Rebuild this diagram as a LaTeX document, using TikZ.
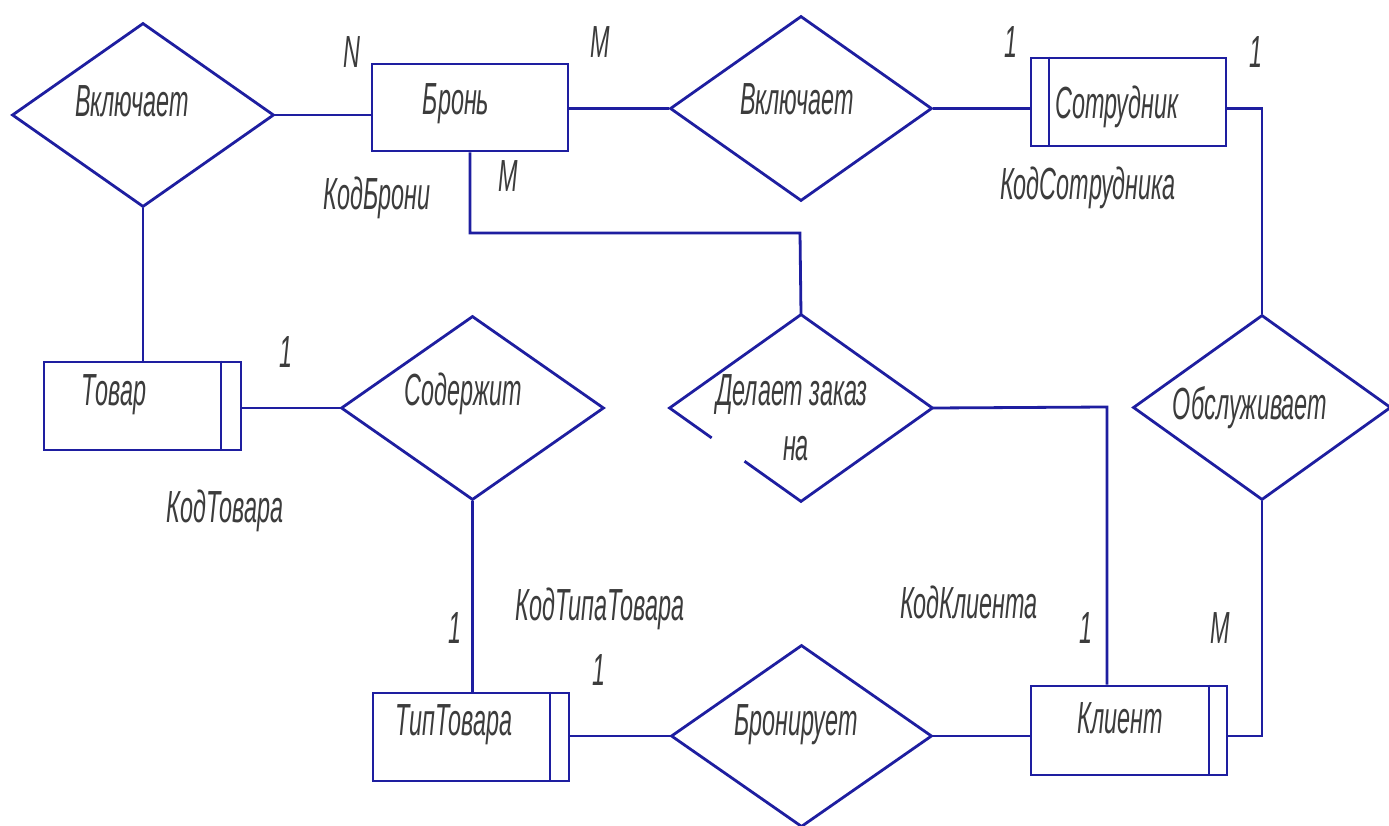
\documentclass[tikz,border=0pt]{standalone}
\usepackage{fontspec}
\usetikzlibrary{shapes.geometric,calc}
\newfontfamily\gost[FakeStretch=0.52]{Liberation Sans}
\definecolor{lineblue}{RGB}{30,30,160}
\definecolor{inkgray}{RGB}{60,60,60}
\begin{document}
\begin{tikzpicture}[x=1pt,y=-1pt,
  ln/.style={draw=lineblue, line width=2.8pt},
  thinln/.style={draw=lineblue, line width=2pt},
  entity/.style={ln, rectangle, inner sep=0pt},
  rel/.style={ln, diamond, inner sep=0pt},
  txt/.style={font=\gost\itshape\fontsize{45}{50}\selectfont, text=inkgray, anchor=base, inner sep=0pt},
]
\useasboundingbox (0,0) rectangle (1389,826);
\fill[white] (0,0) rectangle (1389,826);
\clip (0,0) rectangle (1389,826);

% entities and relationships
\node[rel, minimum width=262pt, minimum height=184pt] (inc1) at (143,115) {};
\node[entity, minimum width=196pt, minimum height=87pt] (bron) at (470,107.5) {};
\node[rel, minimum width=262pt, minimum height=185pt] (inc2) at (801,108.5) {};
\node[entity, minimum width=195pt, minimum height=88pt] (sotr) at (1128.5,102) {};
\node[entity, minimum width=197pt, minimum height=88pt] (tovar) at (142.5,406) {};
\node[rel, minimum width=263pt, minimum height=184pt] (sod) at (472.5,408) {};
\node[rel, draw=none, minimum width=260pt, minimum height=184pt] (order) at (801,408) {};
\node[rel, minimum width=258pt, minimum height=185pt] (obs) at (1262,407.5) {};
\node[entity, minimum width=196pt, minimum height=88pt] (tip) at (471,737) {};
\node[rel, minimum width=261pt, minimum height=182pt] (bro) at (801.5,736) {};
\node[entity, minimum width=196pt, minimum height=89pt] (klient) at (1129,730.5) {};

% order diamond with a gap in its lower-left edge
\draw[ln, line join=miter] ($(order.west)!0.57!(order.south)$) -- (order.south) -- (order.east) -- (order.north) -- (order.west) -- ($(order.west)!0.32!(order.south)$);

% inner lines of the entity boxes
\draw[thinln] ([xshift=19pt]sotr.north west) -- ([xshift=19pt]sotr.south west);
\draw[thinln] ([xshift=-21pt]tovar.north east) -- ([xshift=-21pt]tovar.south east);
\draw[thinln] ([xshift=-20pt]tip.north east) -- ([xshift=-20pt]tip.south east);
\draw[thinln] ([xshift=-19pt]klient.north east) -- ([xshift=-19pt]klient.south east);

% connectors
\coordinate (j1) at (800,233);
\coordinate (j2) at (1107,407);
\draw[ln] (inc1.east) -- (inc1.east -| bron.west);
\draw[ln] (inc2.west -| bron.east) -- (inc2.west);
\draw[ln] (inc2.east) -- (inc2.east -| sotr.west);
\draw[ln] (inc2.east -| sotr.east) -| (obs.north);
\draw[ln] (bron.south) |- (j1) -- (order.north);
\draw[ln] (inc1.south) -- (inc1.south |- tovar.north);
\draw[ln] (sod.west -| tovar.east) -- (sod.west);
\draw[ln] (sod.south) -- (sod.south |- tip.north);
\draw[ln] (bro.west -| tip.east) -- (bro.west);
\draw[ln] (bro.east) -- (bro.east -| klient.west);
\draw[ln] (order.east) -- (j2) -- (j2 |- klient.north);
\draw[ln] (bro.east -| klient.east) -| (obs.south);

% names
\node[txt] (tInc1) at (132,117) {Включает};
\node[txt] (tBron) at (456,115) {Бронь};
\node[txt] (tInc2) at (797,115) {Включает};
\node[txt] (tSotr) at (1117,119) {Сотрудник};
\node[txt] (tTovar) at (114,405) {Товар};
\node[txt] (tSod) at (463,405) {Содержит};
\node[txt] (tOrder1) at (792,405) {Делает заказ};
\node[txt] (tOrder2) at (796,460) {на};
\node[txt] (tObs) at (1250,419) {Обслуживает};
\node[txt] (tTip) at (454,735) {ТипТовара};
\node[txt] (tBro) at (796,735) {Бронирует};
\node[txt] (tKlient) at (1120,733) {Клиент};

% keys
\node[txt] (kBron) at (377,210) {КодБрони};
\node[txt] (kSotr) at (1088,200) {КодСотрудника};
\node[txt] (kTovar) at (225,522) {КодТовара};
\node[txt] (kTip) at (600,620) {КодТипаТовара};
\node[txt] (kKlient) at (969,618) {КодКлиента};

% cardinalities
\node[txt] (cN) at (352,68) {N};
\node[txt] (cM1) at (600,58) {M};
\node[txt] (cM2) at (508,192) {M};
\node[txt] (c1a) at (1011,58) {1};
\node[txt] (c1b) at (1256,68) {1};
\node[txt] (c1c) at (286,367) {1};
\node[txt] (c1d) at (455,643) {1};
\node[txt] (c1e) at (599,685) {1};
\node[txt] (c1f) at (1086,643) {1};
\node[txt] (cM3) at (1220,643) {M};
\end{tikzpicture}
\end{document}
